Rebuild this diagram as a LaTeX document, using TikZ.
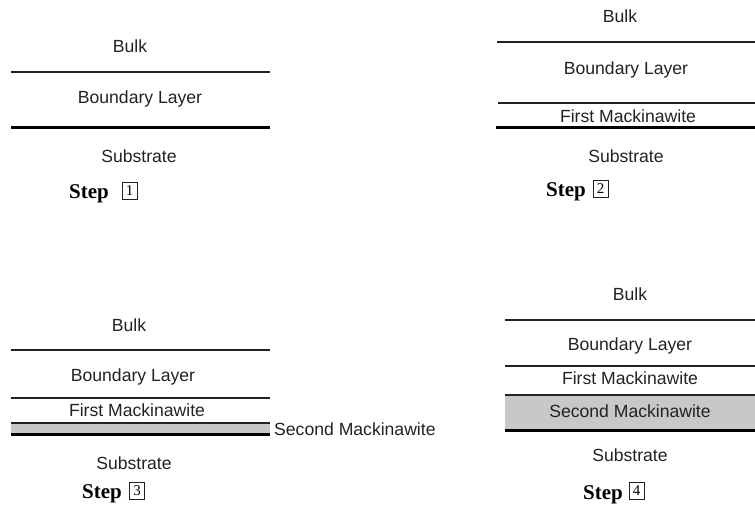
\documentclass[tikz,border=0pt]{standalone}
\usepackage{fontspec}
\setmainfont{Liberation Sans}
\newfontfamily\stepfont{Liberation Serif}
\definecolor{ink}{HTML}{222222}
\definecolor{band}{HTML}{C8C8C8}
\begin{document}
\begin{tikzpicture}[x=1pt,y=-1pt,
  lbl/.style={text=ink,inner sep=0pt,font=\fontsize{17.6}{20}\selectfont},
  thin/.style={draw=ink,line width=1.3pt},
  thick/.style={draw=black,line width=3pt},
  steplbl/.style={inner sep=0pt,anchor=base west,font=\stepfont\bfseries\fontsize{21}{24}\selectfont},
  stepnum/.style={draw=ink,line width=0.8pt,inner sep=0pt,minimum width=15pt,minimum height=17pt,
    font=\stepfont\fontsize{15}{17}\selectfont}]
\useasboundingbox (0,0) rectangle (755,507);

% ---- step 1 ----
\node[lbl] (b1) at (130,46) {Bulk};
\draw[thin] (11,72) -- (270,72);
\node[lbl] (bl1) at (140,99) {Boundary Layer};
\draw[thick] (11,127) -- (270,127);
\node[lbl] (s1) at (139,156) {Substrate};
\node[steplbl] (st1) at (69,198) {Step};
\node[stepnum] (n1) at (129.5,191) {1};

% ---- step 2 ----
\node[lbl] (b2) at (620,16) {Bulk};
\draw[thin] (497,42) -- (755,42);
\node[lbl] (bl2) at (626,70) {Boundary Layer};
\draw[thin] (498,103) -- (755,103);
\node[lbl] (m2) at (628,116) {First Mackinawite};
\draw[thick] (496,127) -- (755,127);
\node[lbl] (s2) at (626,156) {Substrate};
\node[steplbl] (st2) at (546,196) {Step};
\node[stepnum] (n2) at (600.5,189) {2};

% ---- step 3 ----
\node[lbl] (b3) at (129,325) {Bulk};
\draw[thin] (11,350) -- (270,350);
\node[lbl] (bl3) at (133,377) {Boundary Layer};
\draw[thin] (11,398) -- (270,398);
\node[lbl] (m3) at (137,410) {First Mackinawite};
\fill[band] (11,423) rectangle (270,433);
\draw[thin] (11,423) -- (270,423);
\draw[thick] (11,434.5) -- (270,434.5);
\node[lbl,anchor=west] (sm3) at (274,429) {Second Mackinawite};
\node[lbl] (s3) at (134,463) {Substrate};
\node[steplbl] (st3) at (82,498) {Step};
\node[stepnum] (n3) at (137,490.5) {3};

% ---- step 4 ----
\node[lbl] (b4) at (630,294) {Bulk};
\draw[thin] (505,320) -- (755,320);
\node[lbl] (bl4) at (630,346) {Boundary Layer};
\draw[thin] (505,366) -- (755,366);
\node[lbl] (m4) at (630,378) {First Mackinawite};
\fill[band] (505,395) rectangle (755,429);
\draw[thin] (505,395) -- (755,395);
\draw[thick] (505,430) -- (755,430);
\node[lbl] (sm4) at (630,411) {Second Mackinawite};
\node[lbl] (s4) at (630,455) {Substrate};
\node[steplbl] (st4) at (583,499) {Step};
\node[stepnum] (n4) at (636.5,491) {4};
\end{tikzpicture}
\end{document}
